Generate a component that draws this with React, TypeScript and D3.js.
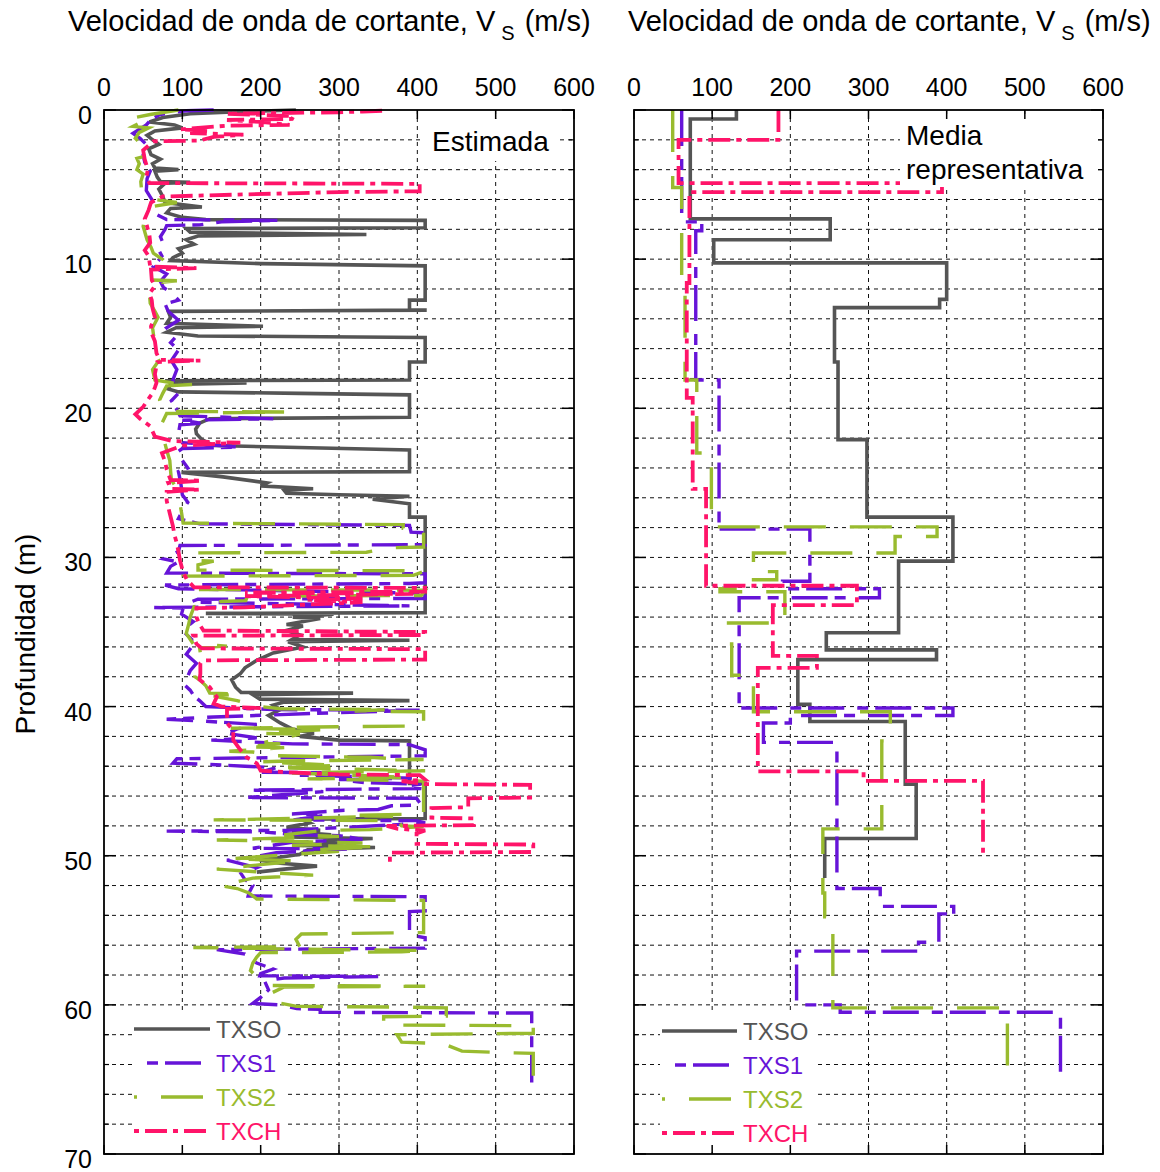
import React from "react";
import * as d3 from "d3";

type Pt = [number, number]; // [depth (m), Vs (m/s)]

const velocityTicks = [0, 100, 200, 300, 400, 500, 600];
const depthTicks = [0, 10, 20, 30, 40, 50, 60, 70];
const depthGrid = [2, 4, 6, 8, 10, 12, 14, 16, 18, 20, 22, 24, 26, 28, 30, 32, 34, 36, 38, 40, 42, 44, 46, 48, 50, 52, 54, 56, 58, 60, 62, 64, 66, 68];
const seriesNames = ["TXSO", "TXS1", "TXS2", "TXCH"];

// ---- Estimada (left panel) ----
const estTXSO: Pt[] = [
  [0, 245], [0.1, 180], [0.25, 110], [0.5, 75], [0.8, 58], [1.0, 90], [1.2, 100], [1.4, 65], [1.7, 55], [2.0, 62], [2.3, 70], [2.6, 57], [3.0, 60], [3.3, 72], [3.6, 62], [3.9, 65], [4.0, 95], [4.1, 65], [4.5, 68], [4.8, 72], [4.85, 110], [4.9, 78], [5.3, 70], [5.8, 75], [6.2, 78], [6.5, 125], [6.6, 85], [6.9, 80], [7.2, 100], [7.35, 130], [7.4, 410], [7.9, 410], [7.95, 105], [8.2, 110], [8.35, 335], [8.45, 120], [8.7, 105], [9.0, 115], [9.3, 95], [9.6, 100], [9.9, 88], [10.1, 85], [10.3, 200], [10.45, 410], [12.75, 410], [12.75, 390], [13.4, 390], [13.42, 412], [13.5, 82], [13.9, 85], [14.3, 80], [14.5, 203], [14.6, 92], [14.9, 80], [15.15, 120], [15.25, 410], [16.9, 410], [16.9, 390], [18.1, 390], [18.15, 78], [18.3, 182], [18.4, 85], [18.7, 82], [18.9, 95], [19.0, 250], [19.1, 390], [20.6, 390], [20.7, 135], [21.0, 122], [21.4, 117], [21.7, 118], [22.1, 125], [22.5, 140], [22.8, 390], [24.25, 390], [24.3, 99], [24.6, 152], [25.0, 208], [25.2, 200], [25.4, 267], [25.5, 230], [25.7, 233], [25.8, 300], [25.9, 390], [26.1, 343], [26.4, 390], [27.3, 390], [27.3, 410], [33.7, 410], [33.75, 130], [33.8, 293], [34.0, 241], [34.1, 276], [34.5, 233], [34.6, 254], [34.9, 233], [35.2, 250], [35.5, 240], [35.55, 390], [35.65, 235], [36.0, 254], [36.4, 216], [36.9, 195], [37.4, 180], [37.8, 174], [38.2, 163], [38.7, 168], [39.05, 175], [39.1, 318], [39.2, 190], [39.5, 199], [39.6, 390], [39.7, 230], [39.9, 216], [40.2, 225], [40.6, 210], [41.1, 225], [41.5, 240], [41.8, 268], [42.0, 250], [42.25, 300], [42.3, 390], [45.15, 390], [45.15, 410], [47.5, 410], [47.55, 250], [47.8, 262], [48.1, 233], [48.3, 276], [48.4, 240], [48.6, 290], [48.75, 233], [48.85, 343], [49.0, 280], [49.1, 320], [49.3, 240], [49.45, 346], [49.6, 260], [49.9, 250], [50.3, 199], [50.5, 225], [50.7, 272], [50.9, 230], [51.1, 195],
];

const estTXS1: Pt[] = [
  [0, 140], [0.05, 105], [0.3, 71], [0.7, 59], [1.0, 54], [1.56, 37], [1.9, 46], [2.46, 57], [3.0, 50], [3.5, 52], [4.1, 59], [4.6, 55], [5.4, 54], [6.0, 61], [6.6, 65], [7.0, 67], [7.35, 80], [7.4, 225], [7.5, 150], [7.7, 122], [7.75, 80], [8.0, 78], [8.5, 72], [9.0, 76], [9.4, 70], [9.8, 74], [10.2, 68], [10.5, 63], [11.0, 80], [11.5, 72], [11.9, 76], [12.3, 87], [12.75, 95], [13.0, 78], [13.5, 82], [14.1, 95], [14.6, 80], [15.2, 92], [15.6, 85], [16.1, 95], [16.8, 86], [17.4, 93], [18.1, 88], [18.6, 90], [19.0, 95], [19.5, 86], [20.0, 92], [20.5, 97], [20.7, 216], [20.8, 100], [21.0, 123], [21.1, 97], [21.7, 95], [22.3, 100], [22.6, 174], [22.7, 100], [23.0, 92], [23.5, 100], [24.0, 107], [24.25, 95], [25.0, 98], [25.8, 100], [26.3, 107], [26.9, 100], [27.4, 95], [27.75, 122], [27.85, 390], [28.3, 392], [28.35, 410], [29.15, 410], [29.2, 97], [29.6, 95], [30.1, 76], [30.3, 95], [30.6, 85], [31.05, 80], [31.1, 410], [31.7, 410], [31.75, 390], [31.85, 78], [32.1, 95], [32.4, 410], [32.75, 410], [32.8, 120], [33.0, 110], [33.25, 390], [33.35, 61], [33.4, 101], [33.8, 99], [34.3, 114], [34.9, 100], [35.5, 112], [36.0, 112], [36.5, 105], [37.1, 118], [37.6, 110], [38.2, 105], [38.45, 101], [38.9, 110], [39.3, 115], [39.6, 122], [40.0, 130], [40.2, 216], [40.25, 403], [40.4, 300], [40.7, 140], [40.85, 80], [41.0, 135], [41.2, 195], [41.5, 170], [41.8, 157], [42.1, 195], [42.25, 137], [42.5, 241], [42.55, 390], [42.9, 410], [43.3, 410], [43.45, 174], [43.5, 93], [43.8, 88], [43.85, 122], [44.0, 180], [44.1, 220], [44.4, 199], [44.45, 301], [44.6, 250], [44.8, 393], [44.9, 300], [45.1, 333], [45.2, 405], [45.3, 390], [45.5, 405], [45.6, 186], [45.7, 280], [46.1, 182], [46.15, 399], [46.6, 405], [46.65, 367], [46.9, 350], [46.95, 307], [47.2, 240], [47.3, 280], [47.6, 242], [47.65, 399], [47.8, 410], [47.9, 380], [48.3, 233], [48.35, 80], [48.4, 200], [48.6, 252], [48.65, 300], [48.9, 330], [49.1, 240], [49.5, 190], [49.55, 310], [49.8, 220], [50.0, 200], [50.3, 157], [50.8, 195], [51.2, 175], [51.6, 180], [52.0, 190], [52.5, 185], [52.7, 184], [52.75, 410], [53.7, 410], [53.75, 390], [55.3, 390], [55.5, 410], [56.2, 410], [56.3, 144], [56.6, 180], [57.2, 195], [57.6, 216], [57.9, 200], [58.05, 199], [58.1, 350], [58.2, 230], [58.4, 205], [59.0, 210], [59.5, 200], [59.9, 190], [60.0, 225], [60.25, 246], [60.3, 276], [60.5, 276], [60.55, 546], [65.2, 546],
];

const estTXS2: Pt[] = [
  [0, 95], [0.3, 59], [0.55, 35], [0.75, 50], [1.1, 37], [1.2, 57], [1.5, 45], [1.9, 40], [2.3, 48], [2.6, 52], [3.0, 59], [3.25, 42], [3.6, 45], [4.0, 42], [4.3, 50], [4.8, 47], [5.4, 48], [5.8, 50], [6.0, 65], [6.2, 93], [6.5, 59], [7.2, 52], [7.8, 50], [8.7, 55], [9.2, 60], [9.6, 63], [10.0, 74], [10.4, 65], [11.0, 62], [11.4, 59], [11.45, 93], [11.6, 62], [12.3, 58], [12.96, 59], [13.5, 65], [13.9, 69], [14.6, 62], [15.4, 64], [16.3, 65], [16.8, 70], [17.4, 62], [18.1, 65], [18.35, 93], [18.4, 116], [18.5, 80], [19.0, 75], [19.45, 71], [20.1, 74], [20.2, 76], [20.25, 233], [20.35, 80], [21.0, 74], [21.5, 72], [21.9, 71], [22.2, 77], [22.8, 80], [23.5, 84], [24.2, 85], [24.8, 86], [25.3, 92], [25.9, 95], [26.4, 97], [27.0, 99], [27.7, 101], [27.8, 382], [28.05, 382], [28.1, 408], [29.3, 408], [29.35, 365], [29.65, 335], [29.7, 110], [30.2, 115], [30.25, 140], [30.5, 120], [30.85, 120], [30.9, 410], [31.2, 395], [31.25, 101], [31.5, 101], [31.9, 106], [32.15, 110], [32.2, 410], [32.55, 405], [32.6, 183], [32.9, 181], [32.95, 150], [33.3, 115], [34.0, 110], [34.5, 108], [35.1, 105], [35.8, 114], [35.95, 157], [36.05, 122], [36.4, 123], [37.3, 118], [38.0, 116], [38.2, 122], [38.6, 130], [39.1, 135], [39.15, 174], [39.3, 140], [39.6, 170], [40.0, 200], [40.15, 225], [40.2, 365], [40.3, 320], [40.35, 408], [41.3, 408], [41.35, 297], [41.45, 161], [41.55, 276], [41.8, 200], [41.85, 250], [42.4, 205], [42.5, 225], [42.7, 180], [42.75, 230], [43.0, 160], [43.05, 190], [43.3, 220], [43.4, 340], [43.5, 370], [43.55, 408], [43.65, 235], [43.7, 200], [43.95, 300], [44.1, 220], [44.3, 410], [44.45, 240], [44.75, 390], [44.85, 260], [44.95, 370], [45.0, 408], [47.2, 408], [47.3, 314], [47.35, 369], [47.55, 195], [47.6, 140], [47.65, 375], [48.0, 380], [48.05, 408], [48.25, 340], [48.3, 280], [48.6, 230], [48.7, 300], [48.95, 144], [49.0, 208], [49.15, 330], [49.3, 240], [49.4, 350], [49.6, 270], [49.7, 300], [50.2, 161], [50.35, 250], [50.6, 200], [50.9, 144], [51.1, 200], [51.3, 267], [51.5, 190], [52.0, 148], [52.2, 170], [52.5, 185], [52.9, 195], [53.0, 408], [55.15, 408], [55.25, 252], [55.6, 245], [56.1, 250], [56.15, 114], [56.3, 300], [56.35, 410], [56.45, 380], [56.5, 200], [56.8, 195], [57.2, 190], [57.7, 187], [58.35, 199], [58.7, 210], [58.75, 410], [58.8, 230], [59.35, 208], [59.8, 216], [60.1, 246], [60.15, 386], [60.2, 437], [60.75, 437], [60.8, 357], [61.35, 357], [61.4, 548], [61.9, 548], [62.0, 374], [62.5, 380], [62.6, 433], [63.1, 457], [63.2, 510], [63.25, 548], [65.2, 548],
];

const estTXCH: Pt[] = [
  [0.05, 355], [0.1, 330], [0.15, 300], [0.25, 157], [0.4, 242], [0.6, 240], [0.67, 157], [0.8, 200], [1.0, 237], [1.05, 157], [1.3, 97], [1.4, 135], [1.55, 110], [1.65, 178], [1.8, 140], [2.05, 122], [2.1, 63], [2.7, 50], [3.3, 52], [4.0, 56], [4.5, 54], [4.9, 58], [4.95, 403], [5.45, 403], [5.5, 300], [5.8, 75], [6.2, 60], [6.7, 57], [7.3, 52], [7.8, 55], [8.4, 58], [8.9, 59], [9.4, 52], [9.8, 57], [10.5, 59], [10.6, 118], [10.7, 60], [11.4, 61], [11.8, 65], [12.3, 58], [12.75, 61], [13.3, 62], [13.9, 65], [14.5, 60], [15.0, 61], [15.5, 65], [16.3, 67], [16.75, 71], [16.8, 123], [16.9, 68], [17.7, 65], [18.3, 67], [18.6, 65], [19.0, 62], [19.2, 59], [19.9, 50], [20.4, 40], [20.7, 46], [21.2, 59], [21.9, 65], [22.2, 88], [22.3, 174], [22.5, 100], [23.0, 74], [23.6, 78], [24.1, 80], [24.8, 85], [24.85, 125], [25.0, 82], [25.4, 85], [25.45, 122], [25.6, 80], [26.2, 80], [27.05, 84], [27.9, 88], [28.5, 90], [29.05, 93], [29.6, 95], [30.2, 97], [31.0, 101], [31.5, 106], [32.0, 115], [32.05, 410], [32.3, 410], [32.35, 180], [32.45, 395], [32.6, 180], [32.75, 330], [32.85, 260], [33.0, 330], [33.35, 180], [33.4, 118], [34.0, 118], [34.5, 122], [34.9, 127], [35.0, 410], [35.2, 410], [35.25, 114], [35.8, 118], [36.1, 125], [36.15, 410], [36.85, 410], [36.9, 130], [37.1, 123], [37.8, 123], [38.2, 122], [38.7, 135], [39.35, 144], [39.8, 140], [40.0, 150], [40.1, 200], [40.15, 157], [41.1, 157], [41.6, 165], [42.25, 165], [42.9, 174], [43.4, 182], [43.8, 195], [44.3, 200], [44.4, 233], [44.55, 300], [44.6, 403], [44.9, 410], [45.0, 380], [45.2, 410], [45.25, 544], [46.1, 544], [46.15, 465], [46.75, 465], [46.8, 418], [47.45, 418], [47.5, 472], [47.95, 472], [48.0, 361], [48.2, 375], [48.3, 410], [48.5, 399], [49.2, 399], [49.25, 548], [49.75, 548], [49.8, 365], [50.5, 365],
];

// ---- Media representativa (right panel) ----
const repTXSO: Pt[] = [
  [0, 131], [0.6, 131], [0.6, 72], [7.3, 72], [7.3, 251], [8.7, 251], [8.7, 102], [10.25, 102], [10.25, 400], [12.7, 400], [12.7, 391], [13.25, 391], [13.25, 256.5], [16.9, 256.5], [16.9, 261], [22.1, 261], [22.1, 298], [27.3, 298], [27.3, 408], [30.25, 408], [30.25, 338.5], [35.05, 338.5], [35.05, 246], [36.2, 246], [36.2, 387], [36.85, 387], [36.85, 209.6], [39.85, 209.6], [39.85, 225], [41.0, 225], [41.0, 347], [45.2, 347], [45.2, 361], [48.85, 361], [48.85, 244], [51.5, 244],
];

const repTXS1: Pt[] = [
  [0, 61], [7.5, 61], [7.5, 86.7], [8.1, 86.7], [8.1, 79], [18.1, 79], [18.1, 108.8], [28.1, 108.8], [28.1, 225], [31.6, 225], [31.6, 190], [32.1, 190], [32.1, 314], [32.7, 314], [32.7, 134.5], [40.1, 134.5], [40.1, 408], [40.6, 408], [40.6, 200], [41.1, 200], [41.1, 165.6], [42.4, 165.6], [42.4, 259.6], [52.2, 259.6], [52.2, 315], [53.4, 315], [53.4, 409], [53.9, 409], [53.9, 390], [55.8, 390], [55.8, 364], [56.4, 364], [56.4, 208], [60.0, 208], [60.0, 263.8], [60.5, 263.8], [60.5, 545.6], [65.2, 545.6],
];

const repTXS2: Pt[] = [
  [0, 49.5], [5.2, 49.5], [5.2, 61], [11.95, 61], [11.95, 65.3], [18.1, 65.3], [18.1, 80.3], [23.0, 80.3], [23.0, 99], [27.95, 99], [27.95, 387.7], [28.6, 387.7], [28.6, 334], [29.7, 334], [29.7, 152.8], [30.95, 152.8], [30.95, 182.6], [31.5, 182.6], [31.5, 140], [32.1, 140], [32.1, 110], [32.3, 110], [32.3, 193], [34.4, 193], [34.4, 118.7], [35.8, 118.7], [35.8, 125], [37.9, 125], [37.9, 152.8], [40.35, 152.8], [40.35, 327.9], [42.3, 327.9], [42.3, 317], [48.2, 317], [48.2, 241.6], [52.5, 241.6], [52.5, 244], [54.1, 244], [54.1, 254.4], [60.2, 254.4], [60.2, 477.7], [65.3, 477.7],
];

const repTXCH: Pt[] = [
  [0, 184.8], [2.0, 184.8], [2.0, 57], [4.9, 57], [4.9, 394], [5.5, 394], [5.5, 70.9], [11.6, 70.9], [11.6, 67.5], [19.3, 67.5], [19.3, 75.1], [25.4, 75.1], [25.4, 92.2], [31.9, 92.2], [31.9, 285.2], [33.2, 285.2], [33.2, 177.6], [36.6, 177.6], [36.6, 234], [37.4, 234], [37.4, 158.4], [44.35, 158.4], [44.35, 293.7], [44.98, 293.7], [44.98, 446.5], [50.1, 446.5],
];

// ---- styles ----
const seriesColors = ["#555555", "#6614d8", "#99bb2f", "#ff1469"];
const seriesDash = ["", "36,13,11,7", "42,24", "22,6,5,6"];
const seriesWidth = [3.6, 3.4, 3.4, 3.8];
const legendDashOffset = [0, 36, 39, 28];
const FONT = "'Liberation Sans', Arial, Helvetica, sans-serif";

function Panel(props: any) {
  const { x, y, series, showY, noteLines, noteBox, legend } = props;
  const line = d3.line<Pt>().x((d) => x(d[1])).y((d) => y(d[0]));
  const [x0, x1] = x.range();
  const [y0, y1] = y.range();
  return (
    <g>
      {velocityTicks.slice(1, -1).map((v) => (
        <line key={"gv" + v} x1={x(v)} x2={x(v)} y1={y0} y2={y1} stroke="#111" strokeWidth={1} strokeDasharray="4,4" />
      ))}
      {depthGrid.map((d) => (
        <line key={"gh" + d} x1={x0} x2={x1} y1={y(d)} y2={y(d)} stroke="#111" strokeWidth={1} strokeDasharray="4,4" />
      ))}
      {series.map((s: Pt[], i: number) => (
        <path
          key={"s" + i}
          d={line(s) || ""}
          fill="none"
          stroke={seriesColors[i]}
          strokeWidth={seriesWidth[i]}
          strokeDasharray={seriesDash[i] || undefined}
          strokeLinejoin="miter"
        />
      ))}
      <rect x={noteBox[0]} y={noteBox[1]} width={noteBox[2]} height={noteBox[3]} fill="#fff" />
      {noteLines.map((t: any, i: number) => (
        <text key={"n" + i} x={t[1]} y={t[2]} fontSize={28} fontFamily={FONT} fill="#000">
          {t[0]}
        </text>
      ))}
      <rect x={legend.box[0]} y={legend.box[1]} width={legend.box[2]} height={legend.box[3]} fill="#fff" />
      {seriesNames.map((name, i) => (
        <g key={"lg" + i}>
          <line
            x1={legend.x0}
            x2={legend.x1}
            y1={legend.ys[i]}
            y2={legend.ys[i]}
            stroke={seriesColors[i]}
            strokeWidth={seriesWidth[i]}
            strokeDasharray={seriesDash[i] || undefined}
            strokeDashoffset={legendDashOffset[i]}
          />
          <text x={legend.tx} y={legend.ys[i]} dy="0.36em" fontSize={24} fontFamily={FONT} fill={seriesColors[i]}>
            {name}
          </text>
        </g>
      ))}
      <rect x={x0} y={y0} width={x1 - x0} height={y1 - y0} fill="none" stroke="#000" strokeWidth={1.8} />
      {velocityTicks.map((v) => (
        <g key={"tx" + v}>
          <line x1={x(v)} x2={x(v)} y1={y0} y2={y0 + 9} stroke="#000" strokeWidth={1.5} />
          <line x1={x(v)} x2={x(v)} y1={y1} y2={y1 - 9} stroke="#000" strokeWidth={1.5} />
          <text x={x(v)} y={96} textAnchor="middle" fontSize={25} fontFamily={FONT} fill="#000">
            {v}
          </text>
        </g>
      ))}
      {depthGrid.map((d) => (
        <g key={"mt" + d}>
          <line x1={x0} x2={x0 + 5} y1={y(d)} y2={y(d)} stroke="#000" strokeWidth={1.2} />
          <line x1={x1} x2={x1 - 5} y1={y(d)} y2={y(d)} stroke="#000" strokeWidth={1.2} />
        </g>
      ))}
      {depthTicks.map((d) => (
        <g key={"ty" + d}>
          <line x1={x0} x2={x0 + 12} y1={y(d)} y2={y(d)} stroke="#000" strokeWidth={1.5} />
          <line x1={x1} x2={x1 - 12} y1={y(d)} y2={y(d)} stroke="#000" strokeWidth={1.5} />
          {showY && (
            <text x={x0 - 12} y={y(d) + 14} textAnchor="end" fontSize={25} fontFamily={FONT} fill="#000">
              {d}
            </text>
          )}
        </g>
      ))}
    </g>
  );
}

function Title({ x }: { x: number }) {
  return (
    <text x={x} y={31} fontSize={29} fontFamily={FONT} fill="#000">
      Velocidad de onda de cortante, V
      <tspan dx={6} dy={9} fontSize={20}>
        S
      </tspan>
      <tspan dx={2} dy={-9}>
        {" (m/s)"}
      </tspan>
    </text>
  );
}

export default function App() {
  const xL = d3.scaleLinear().domain([0, 600]).range([104, 574]);
  const xR = d3.scaleLinear().domain([0, 600]).range([634, 1103]);
  const y = d3.scaleLinear().domain([0, 70]).range([110, 1154]);

  return (
    <svg
      width={1160}
      height={1172}
      viewBox="0 0 1160 1172"
      style={{ position: "absolute", left: 0, top: 0, background: "#fff" }}
    >
      <rect x={0} y={0} width={1160} height={1172} fill="#fff" />
      <Title x={68} />
      <Title x={628} />
      <text transform="translate(35,634) rotate(-90)" textAnchor="middle" fontSize={28} fontFamily={FONT} fill="#000">
        Profundidad (m)
      </text>
      <Panel
        x={xL}
        y={y}
        series={[estTXSO, estTXS1, estTXS2, estTXCH]}
        showY={true}
        noteLines={[["Estimada", 432, 151]]}
        noteBox={[424, 119, 133, 42]}
        legend={{ x0: 134, x1: 210, tx: 216, ys: [1029, 1063, 1097, 1131], box: [133, 1012, 155, 140] }}
      />
      <Panel
        x={xR}
        y={y}
        series={[repTXSO, repTXS1, repTXS2, repTXCH]}
        showY={false}
        noteLines={[["Media", 906, 145], ["representativa", 906, 179]]}
        noteBox={[900, 116, 197, 71]}
        legend={{ x0: 662, x1: 737, tx: 743, ys: [1031, 1065, 1099, 1133], box: [660, 1013, 154, 139] }}
      />
    </svg>
  );
}
